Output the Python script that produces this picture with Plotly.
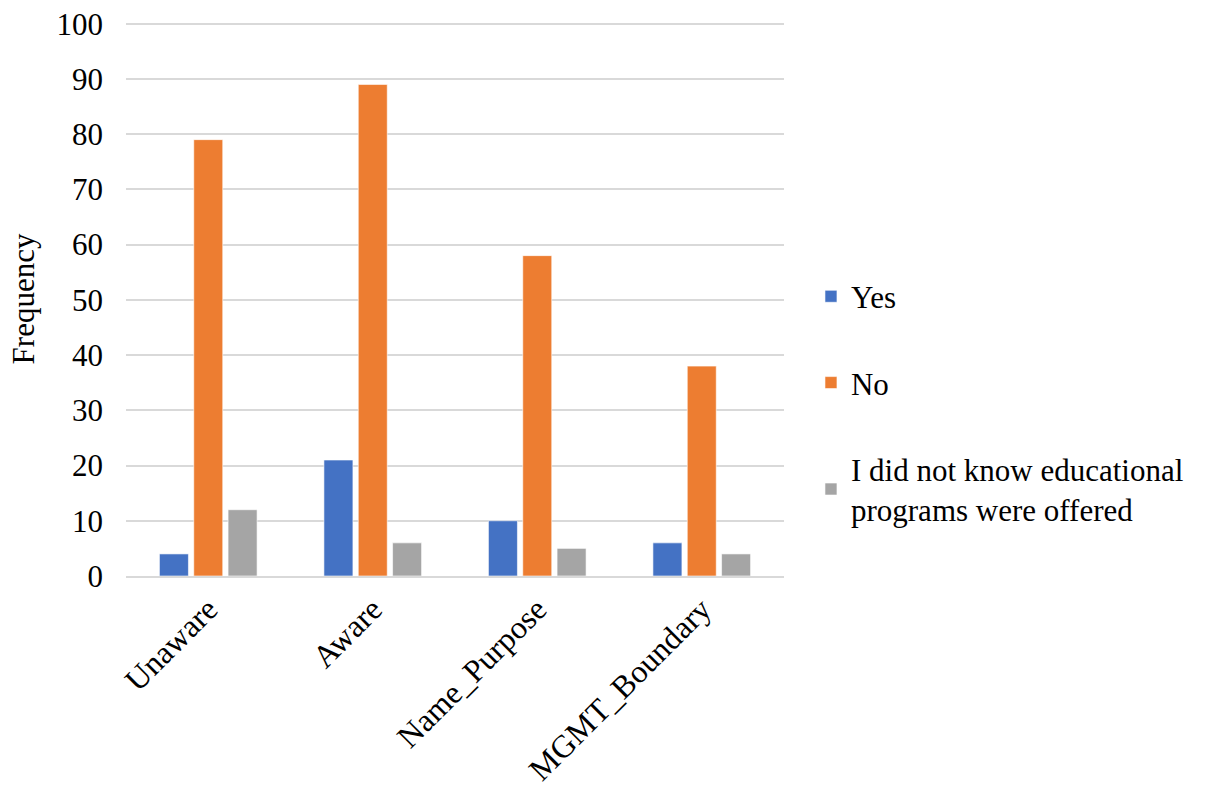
import plotly.graph_objects as go

categories = ["Unaware", "Aware", "Name_Purpose", "MGMT_Boundary"]
yes_values = [4, 21, 10, 6]
no_values = [79, 89, 58, 38]
unknown_values = [12, 6, 5, 4]
series_names = ["Yes", "No", "I did not know educational<br>programs were offered"]
series_colors = ["#4472C4", "#ED7D31", "#A5A5A5"]
y_ticks = list(range(0, 101, 10))

font_family = "Liberation Serif, Times New Roman, serif"

fig = go.Figure()
for i, (name, vals, color) in enumerate(zip(series_names, [yes_values, no_values, unknown_values], series_colors)):
    fig.add_trace(go.Bar(
        x=categories, y=vals, name=name,
        marker=dict(color=color, line=dict(color="white", width=0.6)),
        legendgroup=f"g{i}",
    ))

fig.update_layout(
    width=1209, height=789,
    margin=dict(l=126, r=425, t=22, b=213),
    paper_bgcolor="white", plot_bgcolor="white",
    barmode="group", bargap=0.374, bargroupgap=0.155,
    font=dict(family=font_family, size=31, color="black"),
    showlegend=True,
    legend=dict(
        x=1.041, y=0.553, xanchor="left", yanchor="top",
        font=dict(family=font_family, size=31, color="black"),
        tracegroupgap=43, itemwidth=30,
    ),
    yaxis=dict(
        range=[0, 100.3], tickvals=y_ticks, showgrid=True,
        gridcolor="#D9D9D9", gridwidth=1.5, zeroline=False,
        showline=False, ticks="", ticklabelstandoff=22, automargin=False,
        title=dict(text="Frequency", font=dict(family=font_family, size=31), standoff=12),
        tickfont=dict(family=font_family, size=31),
    ),
    xaxis=dict(
        showline=True, linecolor="#D9D9D9", linewidth=1.5, automargin=False,
        tickangle=-45, tickfont=dict(family=font_family, size=32), ticks="",
    ),
)

fig.write_html("out.html")
